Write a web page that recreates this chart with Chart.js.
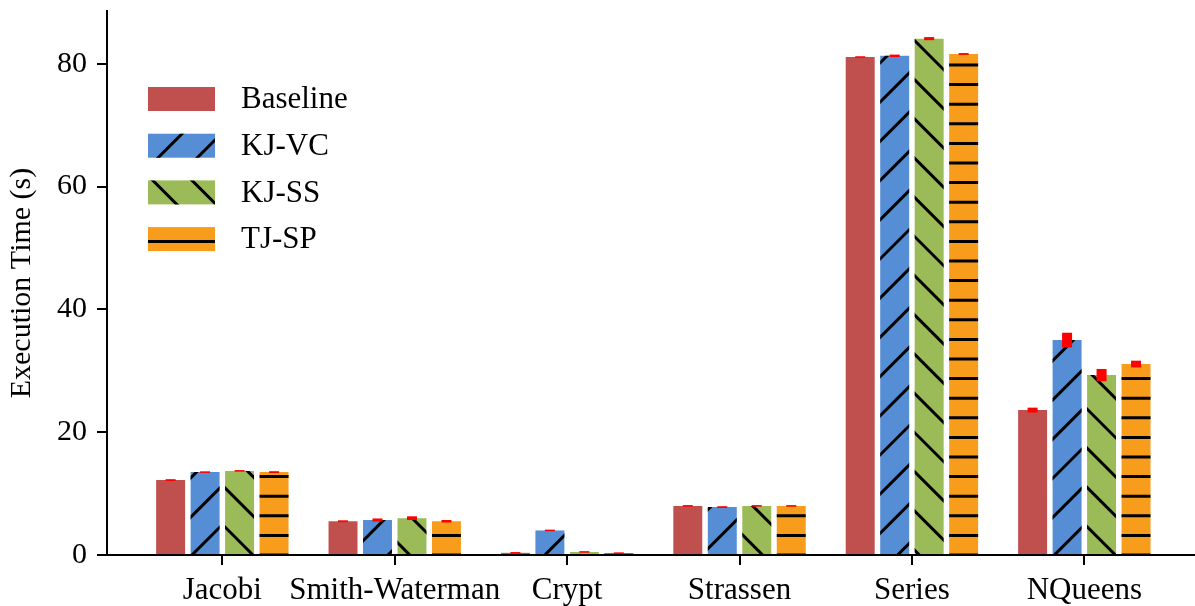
<!DOCTYPE html>
<html>
<head>
<meta charset="utf-8">
<script src="https://cdn.jsdelivr.net/npm/chart.js@4/dist/chart.umd.min.js"></script>
<style>
  html, body { margin: 0; padding: 0; background: #ffffff; }
  #wrap { width: 1195px; height: 606px; }
</style>
</head>
<body>
<div id="wrap"><canvas id="chart" width="1195" height="606"></canvas></div>
<script>
// Benchmarks and execution times (seconds) for each runtime variant
const categories = ['Jacobi', 'Smith-Waterman', 'Crypt', 'Strassen', 'Series', 'NQueens'];
const seriesNames = ['Baseline', 'KJ-VC', 'KJ-SS', 'TJ-SP'];

const baseline = [12.2, 5.5, 0.35, 8.0, 81.1, 23.6];
const kjVC     = [13.5, 5.7, 4.0, 7.8, 81.3, 35.0];
const kjSS     = [13.7, 6.0, 0.5, 8.0, 84.1, 29.3];
const tjSP     = [13.5, 5.5, 0.3, 8.0, 81.6, 31.1];

// Half-width of the spread around each mean
const baselineErr = [0.15, 0.15, 0.05, 0.1, 0.1, 0.4];
const kjVCErr     = [0.1, 0.25, 0.1, 0.15, 0.2, 1.2];
const kjSSErr     = [0.1, 0.3, 0.05, 0.1, 0.25, 1.0];
const tjSPErr     = [0.15, 0.2, 0.05, 0.1, 0.15, 0.55];

const yTicks = [0, 20, 40, 60, 80];

const FONT = "'Liberation Serif', 'DejaVu Serif', serif";
const colors = ['#C0504D', '#558ED5', '#9BBB59', '#F89C1C'];
const hatches = ['', '/', '\\', '-'];
const values = [baseline, kjVC, kjSS, tjSP];
const errors = [baselineErr, kjVCErr, kjSSErr, tjSPErr];

// Hatch lines share one global phase so bars and legend swatches line up
const HATCH = { hPeriod: 19.6, dPeriod: 39.2, fwd: 747, back: 302, width: 3 };

function firstAtOrAbove(start, anchor, period) {
  return anchor + Math.ceil((start - anchor) / period) * period;
}

function drawHatch(ctx, type, left, top, right, bottom, hAnchor) {
  if (!type) return;
  ctx.save();
  ctx.beginPath();
  ctx.rect(left, top, right - left, bottom - top);
  ctx.clip();
  ctx.strokeStyle = '#000000';
  ctx.lineWidth = HATCH.width;
  ctx.lineCap = 'butt';
  ctx.beginPath();
  if (type === '-') {
    for (let y = firstAtOrAbove(top - 4, hAnchor, HATCH.hPeriod); y <= bottom + 4; y += HATCH.hPeriod) {
      ctx.moveTo(left - 2, y);
      ctx.lineTo(right + 2, y);
    }
  } else if (type === '/') {
    // lines where x + y is constant
    for (let c = firstAtOrAbove(left + top - 4, HATCH.fwd, HATCH.dPeriod); c <= right + bottom + 4; c += HATCH.dPeriod) {
      ctx.moveTo(left - 4, c - left + 4);
      ctx.lineTo(right + 4, c - right - 4);
    }
  } else if (type === '\\') {
    // lines where y - x is constant
    for (let d = firstAtOrAbove(top - right - 4, HATCH.back, HATCH.dPeriod); d <= bottom - left + 4; d += HATCH.dPeriod) {
      ctx.moveTo(left - 4, left - 4 + d);
      ctx.lineTo(right + 4, right + 4 + d);
    }
  }
  ctx.stroke();
  ctx.restore();
}

const hatchAndErrors = {
  id: 'hatchAndErrors',
  afterDatasetsDraw(chart) {
    const ctx = chart.ctx;
    const yScale = chart.scales.y;
    const zeroPx = yScale.getPixelForValue(0);
    chart.data.datasets.forEach((ds, di) => {
      const meta = chart.getDatasetMeta(di);
      meta.data.forEach((bar) => {
        const p = bar.getProps(['x', 'y', 'base', 'width'], true);
        const left = p.x - p.width / 2, right = p.x + p.width / 2;
        const top = Math.min(p.y, p.base), bottom = Math.max(p.y, p.base);
        drawHatch(ctx, ds.hatch, left, top, right, bottom, zeroPx);
      });
    });
    // error bars as thick red strokes
    chart.data.datasets.forEach((ds, di) => {
      const meta = chart.getDatasetMeta(di);
      meta.data.forEach((bar, i) => {
        const v = ds.data[i].y, e = ds.err[i];
        const yHi = yScale.getPixelForValue(v + e);
        const yLo = yScale.getPixelForValue(v - e);
        let h = Math.abs(yLo - yHi);
        const mid = (yLo + yHi) / 2;
        if (h < 1.6) h = 1.6;
        ctx.save();
        ctx.fillStyle = '#FF0000';
        ctx.fillRect(bar.x - 5, mid - h / 2, 10, h);
        ctx.restore();
      });
    });
  }
};

const boxLegend = {
  id: 'boxLegend',
  afterDraw(chart) {
    const ctx = chart.ctx;
    const zeroPx = chart.scales.y.getPixelForValue(0);
    const x0 = 148, w = 67, h = 24, firstTop = 87, step = 46.7, textX = 241;
    chart.data.datasets.forEach((ds, i) => {
      const top = firstTop + i * step;
      ctx.save();
      ctx.fillStyle = ds.backgroundColor;
      ctx.fillRect(x0, top, w, h);
      ctx.restore();
      drawHatch(ctx, ds.hatch, x0, top, x0 + w, top + h, zeroPx);
      ctx.save();
      ctx.fillStyle = '#000000';
      ctx.font = '31px ' + FONT;
      ctx.textAlign = 'left';
      ctx.textBaseline = 'middle';
      ctx.fillText(ds.label, textX, top + h / 2 + 1);
      ctx.restore();
    });
  }
};

const datasets = seriesNames.map((name, k) => ({
  label: name,
  data: values[k].map((v, i) => ({ x: i, y: v })),
  err: errors[k],
  hatch: hatches[k],
  backgroundColor: colors[k],
  borderWidth: 0,
  barPercentage: 0.84,
  categoryPercentage: 0.8
}));

new Chart(document.getElementById('chart'), {
  type: 'bar',
  data: { datasets },
  options: {
    responsive: false,
    devicePixelRatio: 1,
    animation: false,
    layout: { padding: { top: 11, right: 0, bottom: 0, left: 0 } },
    plugins: { legend: { display: false }, tooltip: { enabled: false } },
    scales: {
      x: {
        type: 'linear',
        min: -0.669,
        max: 5.642,
        offset: false,
        z: 1,
        border: { display: true, color: '#000000', width: 2 },
        grid: { display: true, offset: false, drawOnChartArea: false, drawTicks: true, tickLength: 10, color: '#000000', lineWidth: 2 },
        afterBuildTicks(scale) { scale.ticks = categories.map((_, i) => ({ value: i })); },
        ticks: {
          autoSkip: false,
          maxRotation: 0,
          padding: 7,
          color: '#000000',
          font: { family: FONT, size: 31 },
          callback: (v) => categories[v]
        },
        afterFit(scale) {
          scale.height = 51;
          scale.paddingLeft = 0; scale.paddingRight = 0;
        }
      },
      y: {
        type: 'linear',
        min: 0,
        max: 88.6,
        z: 1,
        border: { display: true, color: '#000000', width: 2 },
        grid: { display: true, offset: false, drawOnChartArea: false, drawTicks: true, tickLength: 10, color: '#000000', lineWidth: 2 },
        afterBuildTicks(scale) { scale.ticks = yTicks.map((v) => ({ value: v })); },
        ticks: {
          padding: 10,
          color: '#000000',
          font: { family: FONT, size: 30 },
          callback: (v) => String(v)
        },
        title: {
          display: true,
          text: 'Execution Time (s)',
          color: '#000000',
          font: { family: FONT, size: 30 },
          padding: { top: 4, bottom: 0 }
        },
        afterFit(scale) {
          scale.width = 107;
          scale.paddingTop = 0; scale.paddingBottom = 0;
        }
      }
    }
  },
  plugins: [hatchAndErrors, boxLegend]
});
</script>
</body>
</html>
